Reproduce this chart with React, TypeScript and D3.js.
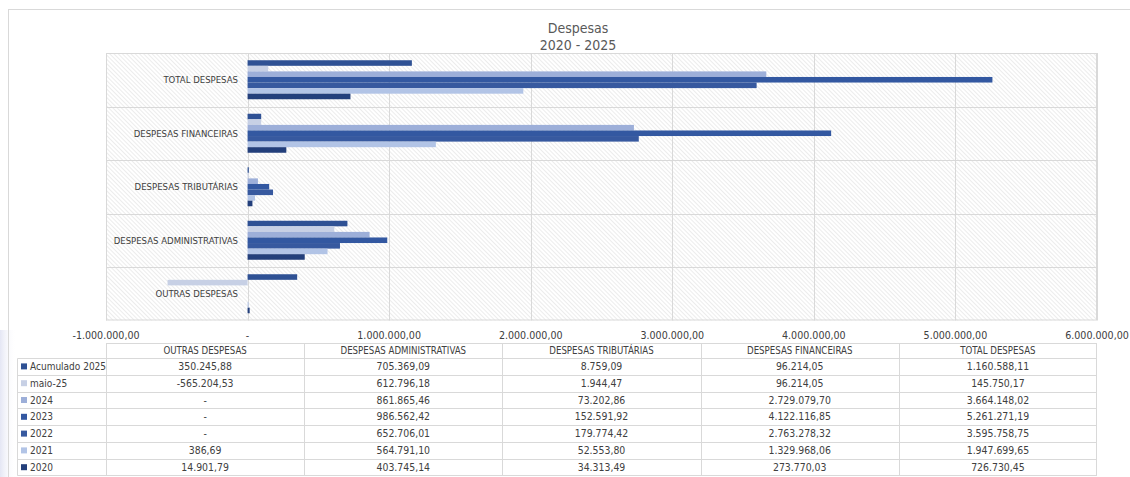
import React from "react";
import * as d3 from "d3";

const categories = [
  "OUTRAS DESPESAS",
  "DESPESAS ADMINISTRATIVAS",
  "DESPESAS TRIBUTÁRIAS",
  "DESPESAS FINANCEIRAS",
  "TOTAL DESPESAS",
];
const seriesNames = ["Acumulado 2025", "maio-25", "2024", "2023", "2022", "2021", "2020"];

const acumulado2025 = [350245.88, 705369.09, 8759.09, 96214.05, 1160588.11];
const maio25 = [-565204.53, 612796.18, 1944.47, 96214.05, 145750.17];
const y2024 = [0, 861865.46, 73202.86, 2729079.7, 3664148.02];
const y2023 = [0, 986562.42, 152591.92, 4122116.85, 5261271.19];
const y2022 = [0, 652706.01, 179774.42, 2763278.32, 3595758.75];
const y2021 = [386.69, 564791.1, 52553.8, 1329968.06, 1947699.65];
const y2020 = [14901.79, 403745.14, 34313.49, 273770.03, 726730.45];
const seriesValues = [acumulado2025, maio25, y2024, y2023, y2022, y2021, y2020];

const seriesColors = ["#2F5194", "#C7D0E5", "#9DAFD9", "#3358A1", "#37599F", "#B2C4E6", "#233F7B"];

const xTicks = [-1000000, 0, 1000000, 2000000, 3000000, 4000000, 5000000, 6000000];
const titleText = "Despesas";
const subtitleText = "2020 - 2025";

const W = 1130;
const H = 477;
const PL = 106;
const PR = 1097;
const PT = 53;
const PB = 320.5;

const loc = d3.formatLocale({ decimal: ",", thousands: ".", grouping: [3], currency: ["R$", ""], minus: "-" });
const fmt = loc.format(",.2f");
const fmtVal = (v: number) => (v === 0 ? "-" : fmt(v));

const labelFont = "'Liberation Sans Narrow', 'DejaVu Sans Condensed', 'Liberation Sans', sans-serif";
const textColor = "#404040";
const gridColor = "#D9D9D9";

export default function App() {
  const x = d3.scaleLinear().domain([-1000000, 6000000]).range([PL, PR]);
  const yCat = d3.scaleBand<string>().domain([...categories].reverse()).range([PT, PB]).padding(0);
  const ySer = d3
    .scaleBand<string>()
    .domain(seriesNames)
    .range([0, yCat.bandwidth()])
    .paddingInner(0)
    .paddingOuter(1.3);
  const colX = d3.scaleBand<string>().domain(categories).range([PL, PR]);

  const tableTop = 343.5;
  const headerH = 14.5;
  const rowH = 16.8;
  const legendLeft = 17.5;
  const rowsTop = tableTop + headerH;
  const tableBottom = rowsTop + rowH * seriesNames.length;

  return (
    <svg
      width={W}
      height={H}
      style={{ position: "absolute", left: 0, top: 0, background: "#fff" }}
      fontFamily={labelFont}
    >
      <defs>
        <pattern id="hatch" width="3" height="3" patternUnits="userSpaceOnUse" patternTransform="rotate(-45)">
          <rect width="3" height="3" fill="#FFFFFF" />
          <line x1="0" y1="0" x2="0" y2="3" stroke="#E0E0E0" strokeWidth="1.2" />
        </pattern>
        <linearGradient id="shade" x1="0" x2="1" y1="0" y2="0">
          <stop offset="0" stopColor="#E4E6F4" />
          <stop offset="1" stopColor="#FFFFFF" stopOpacity="0" />
        </linearGradient>
      </defs>

      <rect x={0} y={330} width={16} height={H - 330} fill="url(#shade)" />

      {/* outer frame */}
      <line x1={8} x2={W} y1={9.5} y2={9.5} stroke={gridColor} />
      <line x1={8.5} x2={8.5} y1={9.5} y2={H} stroke={gridColor} />

      {/* title */}
      <text x={578} y={33} textAnchor="middle" fontSize={14} fill="#595959">
        {titleText}
      </text>
      <text x={578} y={50} textAnchor="middle" fontSize={14} fill="#595959">
        {subtitleText}
      </text>

      {/* plot area */}
      <rect x={PL} y={PT} width={PR - PL} height={PB - PT} fill="url(#hatch)" />
      {xTicks.map((t) => (
        <line key={"g" + t} x1={Math.round(x(t)) + 0.5} x2={Math.round(x(t)) + 0.5} y1={PT} y2={PB} stroke={gridColor} />
      ))}
      {yCat.domain().map((c, i) =>
        i === 0 ? null : (
          <line key={"h" + c} x1={PL} x2={PR} y1={Math.round(yCat(c)!) + 0.5} y2={Math.round(yCat(c)!) + 0.5} stroke={gridColor} />
        )
      )}
      <rect x={PL + 0.5} y={PT + 0.5} width={PR - PL - 1} height={PB - PT - 1} fill="none" stroke={gridColor} />

      {/* bars */}
      {categories.map((c, ci) =>
        seriesNames.map((s, si) => {
          const v = seriesValues[si][ci];
          if (v === 0) return null;
          const x0 = x(Math.min(0, v));
          const x1 = x(Math.max(0, v));
          return (
            <rect
              key={c + s}
              x={x0}
              width={Math.max(1, x1 - x0)}
              y={yCat(c)! + ySer(s)!}
              height={ySer.bandwidth()}
              fill={seriesColors[si]}
            />
          );
        })
      )}

      {/* category labels */}
      {categories.map((c) => (
        <text
          key={"l" + c}
          x={238}
          y={yCat(c)! + yCat.bandwidth() / 2}
          dy="0.35em"
          textAnchor="end"
          fontSize={9.5}
          fill={textColor}
        >
          {c}
        </text>
      ))}

      {/* x tick labels */}
      {xTicks.map((t) => (
        <text key={"t" + t} x={x(t)} y={339} textAnchor="middle" fontSize={10.6} fill={textColor}>
          {t === 0 ? "-" : fmt(t)}
        </text>
      ))}

      {/* data table */}
      <g stroke={gridColor} strokeWidth={1}>
        <line x1={PL} x2={PR} y1={tableTop} y2={tableTop} />
        {seriesNames.map((s, i) => (
          <line key={"r" + s} x1={legendLeft} x2={PR} y1={Math.round(rowsTop + i * rowH) + 0.5} y2={Math.round(rowsTop + i * rowH) + 0.5} />
        ))}
        <line x1={legendLeft} x2={PR} y1={Math.round(tableBottom) - 0.5} y2={Math.round(tableBottom) - 0.5} />
        <line x1={legendLeft} x2={legendLeft} y1={Math.round(rowsTop) + 0.5} y2={tableBottom} />
        {categories.map((c) => (
          <line key={"v" + c} x1={Math.round(colX(c)!) + 0.5} x2={Math.round(colX(c)!) + 0.5} y1={tableTop} y2={tableBottom} />
        ))}
        <line x1={PR - 0.5} x2={PR - 0.5} y1={tableTop} y2={tableBottom} />
      </g>
      {categories.map((c) => (
        <text
          key={"th" + c}
          x={colX(c)! + colX.bandwidth() / 2}
          y={tableTop + headerH / 2}
          dy="0.35em"
          textAnchor="middle"
          fontSize={9.6}
          fill={textColor}
        >
          {c}
        </text>
      ))}
      {seriesNames.map((s, si) => {
        const cy = rowsTop + si * rowH + rowH / 2;
        return (
          <g key={"row" + s}>
            <rect x={21} y={cy - 3} width={6} height={6} fill={seriesColors[si]} />
            <text x={30} y={cy} dy="0.35em" fontSize={10} fill={textColor}>
              {s}
            </text>
            {categories.map((c, ci) => (
              <text
                key={"cell" + s + c}
                x={colX(c)! + colX.bandwidth() / 2}
                y={cy}
                dy="0.35em"
                textAnchor="middle"
                fontSize={10.4}
                fill={textColor}
              >
                {fmtVal(seriesValues[si][ci])}
              </text>
            ))}
          </g>
        );
      })}
    </svg>
  );
}
